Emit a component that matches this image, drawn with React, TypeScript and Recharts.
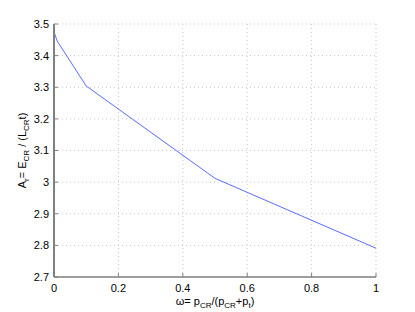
import React from "react";
import { LineChart, Line, XAxis, YAxis, CartesianGrid } from "recharts";

const omega = [0, 0.01, 0.1, 0.5, 1];
const ar = [3.475, 3.446, 3.304, 3.012, 2.791];
const xTicks = [0, 0.2, 0.4, 0.6, 0.8, 1];
const yTicks = [2.7, 2.8, 2.9, 3, 3.1, 3.2, 3.3, 3.4, 3.5];

const data = omega.map((w, i) => ({ w, a: ar[i] }));

const FONT = "'Liberation Sans', Arial, sans-serif";

const XLabel = (props: any) => {
  const vb = props.viewBox;
  const cx = vb.x + vb.width / 2;
  const y = vb.y + 28;
  return (
    <text x={cx} y={y} textAnchor="middle" fontFamily={FONT} fontSize={11} fill="#000">
      <tspan>ω= p</tspan>
      <tspan fontSize={8} dy={3}>CR</tspan>
      <tspan dy={-3}>/(p</tspan>
      <tspan fontSize={8} dy={3}>CR</tspan>
      <tspan dy={-3}>+p</tspan>
      <tspan fontSize={8} dy={3}>t</tspan>
      <tspan dy={-3}>)</tspan>
    </text>
  );
};

const YLabel = (props: any) => {
  const vb = props.viewBox;
  const cy = vb.y + vb.height / 2;
  const x = 26;
  return (
    <text
      x={x}
      y={cy}
      textAnchor="middle"
      fontFamily={FONT}
      fontSize={11}
      fill="#000"
      transform={`rotate(-90 ${x} ${cy})`}
    >
      <tspan>A</tspan>
      <tspan fontSize={8} dy={3}>r</tspan>
      <tspan dy={-3}>= E</tspan>
      <tspan fontSize={8} dy={3}>CR</tspan>
      <tspan dy={-3}> / (L</tspan>
      <tspan fontSize={8} dy={3}>CR</tspan>
      <tspan dy={-3}>t)</tspan>
    </text>
  );
};

export default function App() {
  return (
    <div style={{ position: "absolute", left: 0, top: 0, width: 415, height: 312, background: "#fff" }}>
      <LineChart
        width={415}
        height={312}
        data={data}
        margin={{ top: 24, right: 39, bottom: 0, left: 0 }}
      >
        <CartesianGrid xAxisId="b" yAxisId="l" stroke="#c8c8c8" strokeDasharray="1 3" />
        <XAxis
          xAxisId="b"
          dataKey="w"
          type="number"
          domain={[0, 1]}
          ticks={xTicks}
          height={35}
          tickSize={-4}
          tickMargin={11}
          interval={0}
          axisLine={{ stroke: "#808080", strokeWidth: 1.5 }}
          tickLine={{ stroke: "#808080" }}
          tick={{ fill: "#000", fontSize: 11, fontFamily: FONT }}
          tickFormatter={(v: number) => String(v)}
          label={<XLabel />}
        />
        <XAxis
          xAxisId="t"
          orientation="top"
          dataKey="w"
          type="number"
          domain={[0, 1]}
          ticks={xTicks}
          height={0}
          tickSize={-4}
          tick={false}
          axisLine={{ stroke: "#000", strokeWidth: 1 }}
          tickLine={{ stroke: "#808080" }}
        />
        <YAxis
          yAxisId="l"
          type="number"
          domain={[2.7, 3.5]}
          ticks={yTicks}
          width={54}
          tickSize={-4}
          tickMargin={9}
          interval={0}
          axisLine={{ stroke: "#808080", strokeWidth: 2 }}
          tickLine={{ stroke: "#808080" }}
          tick={{ fill: "#000", fontSize: 11, fontFamily: FONT }}
          tickFormatter={(v: number) => String(v)}
          label={<YLabel />}
        />
        <YAxis
          yAxisId="r"
          orientation="right"
          type="number"
          domain={[2.7, 3.5]}
          ticks={yTicks}
          width={0}
          tickSize={-4}
          tick={false}
          axisLine={{ stroke: "#808080", strokeWidth: 1.5 }}
          tickLine={{ stroke: "#808080" }}
        />
        <Line
          xAxisId="b"
          yAxisId="l"
          dataKey="a"
          stroke="#5a6cff"
          strokeWidth={1}
          dot={false}
          isAnimationActive={false}
        />
      </LineChart>
    </div>
  );
}
